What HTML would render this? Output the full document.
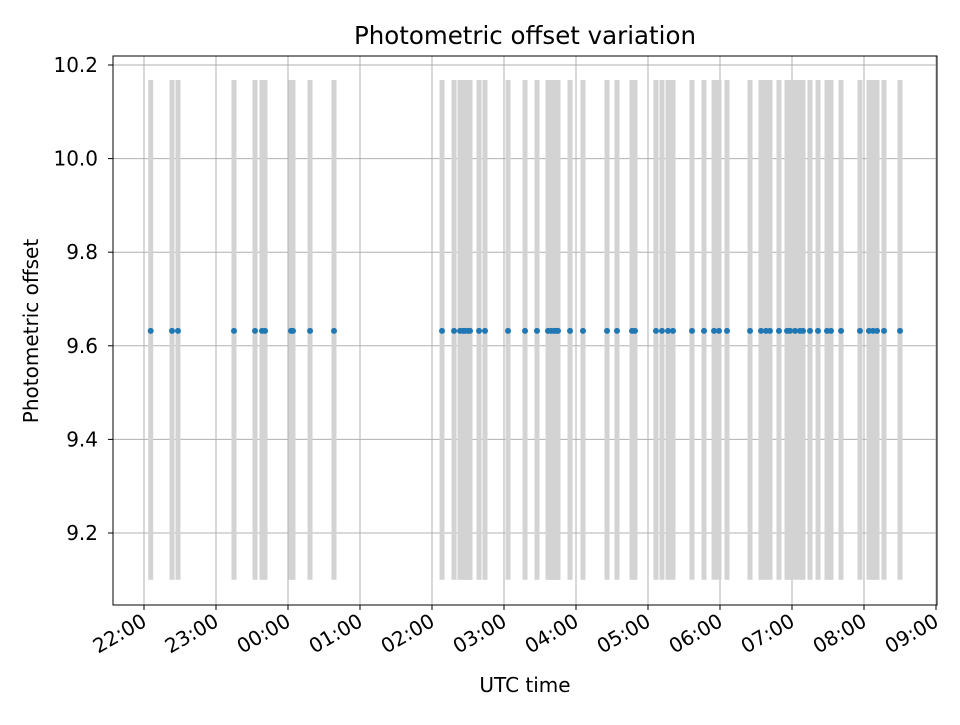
<!DOCTYPE html>
<html><head><meta charset="utf-8"><style>
body{margin:0;background:#fff;font-family:"Liberation Sans","DejaVu Sans",sans-serif;}
</style></head><body>
<svg id="chart" width="960" height="720" xmlns="http://www.w3.org/2000/svg" font-family="DejaVu Sans, Liberation Sans, sans-serif">
<rect width="960" height="720" fill="#fff"/>
<g id="grid"></g><g id="bars"></g><g id="pts"></g><g id="axes"></g>
</svg>
<script>
const times = [0.093,0.389,0.472,1.25,1.542,1.639,1.681,2.042,2.069,2.306,2.639,4.139,4.306,4.389,4.431,4.458,4.5,4.528,4.653,4.736,5.056,5.292,5.458,5.611,5.653,5.694,5.722,5.75,5.917,6.097,6.431,6.569,6.778,6.819,7.111,7.194,7.278,7.347,7.611,7.778,7.917,7.986,8.097,8.417,8.569,8.639,8.694,8.819,8.931,8.972,9.042,9.111,9.153,9.25,9.361,9.486,9.542,9.681,9.944,10.069,10.125,10.181,10.278,10.5];
const offsets = times.map(()=>9.632);
const barLow = 9.1, barHigh = 10.168;
const yTicks = [9.2,9.4,9.6,9.8,10.0,10.2];
const xTicks = ["22:00","23:00","00:00","01:00","02:00","03:00","04:00","05:00","06:00","07:00","08:00","09:00"];
const L=113,R=937,T=56,B=605;
const xs = h => 144 + h*72;
const ys = v => 533 - (v-9.2)*468;
const NS="http://www.w3.org/2000/svg";
function mk(tag,attrs,parent,txt){const e=document.createElementNS(NS,tag);for(const k in attrs)e.setAttribute(k,attrs[k]);if(txt!=null)e.textContent=txt;document.getElementById(parent).appendChild(e);return e;}
xTicks.forEach((t,i)=>{const x=xs(i);
 const g=mk('line',{x1:x,x2:x,y1:T,y2:B,stroke:'#b0b0b0','stroke-width':1},'grid');
 
 mk('line',{x1:x,x2:x,y1:B,y2:B+5,stroke:'#000'},'axes');
 const ax=x+4, ay=B+20;
 const tx=mk('text',{x:ax,y:ay,'font-size':20,'text-anchor':'end',transform:`rotate(-30 ${ax} ${ay})`},'axes',t);
 
});
yTicks.forEach(v=>{const y=ys(v);
 const g=mk('line',{x1:L,x2:R,y1:y,y2:y,stroke:'#b0b0b0','stroke-width':1},'grid');
 
 mk('line',{x1:L-5,x2:L,y1:y,y2:y,stroke:'#000'},'axes');
 const tx=mk('text',{x:L-15,y:y+7,'font-size':20,'text-anchor':'end'},'axes',v.toFixed(1));
 
});
times.forEach((h,i)=>{
 const b=mk('rect',{x:xs(h)-2.5,y:ys(barHigh),width:5,height:ys(barLow)-ys(barHigh),fill:'#d3d3d3'},'bars');
 
 const p=mk('circle',{cx:xs(h),cy:ys(offsets[i]),r:3,fill:'#1f77b4'},'pts');
 
});
const fr=mk('rect',{x:L,y:T,width:R-L,height:B-T,fill:'none',stroke:'#000','stroke-width':1},'axes');

const ti=mk('text',{x:525,y:44,'font-size':24.5,'text-anchor':'middle'},'axes','Photometric offset variation');

const xl=mk('text',{x:525,y:692,'font-size':20,'text-anchor':'middle'},'axes','UTC time');

const yl=mk('text',{x:38,y:331,'font-size':20,'text-anchor':'middle',transform:'rotate(-90 38 331)'},'axes','Photometric offset');

</script>
</body></html>
